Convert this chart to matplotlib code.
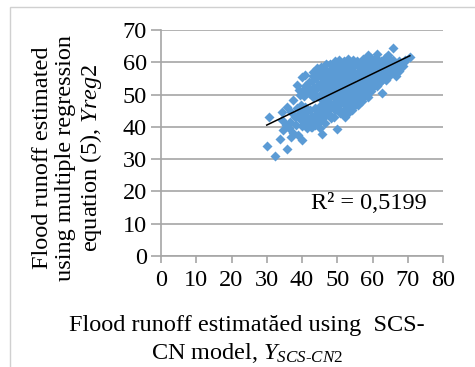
import numpy as np
import matplotlib
matplotlib.use("Agg")
import matplotlib.pyplot as plt
from matplotlib.patches import Rectangle

plt.rcParams["font.family"] = ["Liberation Serif", "DejaVu Serif"]
plt.rcParams["mathtext.fontset"] = "custom"
plt.rcParams["mathtext.rm"] = "Liberation Serif"
plt.rcParams["mathtext.it"] = "Liberation Serif:italic"

# Flood runoff: SCS-CN model (x) versus multiple regression equation (y)
runoff_scs = [
    # sparse low-left points
    30.0, 32.3, 35.7, 30.7, 33.8, 34.7, 34.2, 35.7, 34.2, 36.6, 37.5, 36.3, 37.4, 38.3,
    38.8, 39.9, 42.7, 37.9, 36.9, 38.5, 39.9, 40.9, 45.6, 49.8, 52.2, 54.1, 39.2, 38.6,
    35.5, 37.0,
    # sparse upper-right points
    62.6, 61.2, 65.9, 64.5, 58.8, 70.6, 68.4, 67.6, 66.8, 69.3,
    # lower-left lobe
    40.1, 39.8, 40.3, 40.0, 39.7, 41.3, 41.0, 41.5, 41.2, 40.9, 42.6, 42.3, 42.8, 42.4,
    43.8, 43.5, 44.0, 43.6, 45.1, 44.8, 45.3, 44.9, 45.2, 46.4, 46.1, 46.6, 46.2,
    # upper-left part
    39.5, 39.2, 40.7, 40.4, 40.9, 41.9, 41.6, 42.1, 43.1, 42.8, 43.3, 42.9, 43.2, 43.0,
    44.3, 44.0, 44.5, 44.1, 44.4, 44.2, 45.6, 45.3, 45.8, 45.4, 45.7, 45.5, 45.3,
    46.8, 46.5, 47.0, 46.6, 46.9, 46.7, 46.5, 46.9,
    # core
    48.3, 47.8, 48.1, 47.7, 48.0, 48.2, 47.9, 48.3, 47.8, 48.1, 48.0,
    49.1, 49.5, 49.2, 49.6, 49.0, 49.4, 49.3, 49.1, 49.6, 49.2, 49.4,
    50.8, 50.4, 50.7, 50.3, 50.9, 50.5, 50.6, 50.8, 50.4, 50.7, 50.5,
    51.7, 52.1, 51.8, 52.2, 51.6, 52.0, 51.9, 51.7, 52.1, 51.8,
    53.4, 53.0, 53.3, 52.9, 53.5, 53.1, 53.2, 53.4, 53.0, 53.3, 53.1,
    54.3, 54.7, 54.4, 54.8, 54.2, 54.6, 54.5, 54.3, 54.7, 54.4,
    56.0, 55.6, 55.9, 55.5, 56.1, 55.7, 55.8, 56.0, 55.6,
    56.9, 57.3, 57.0, 57.4, 56.8, 57.2, 57.1, 56.9, 57.3,
    58.6, 58.2, 58.5, 58.1, 58.7, 58.3, 58.4, 58.6,
    59.5, 59.9, 59.6, 60.0, 59.4, 59.8, 59.7, 59.5,
    61.2, 60.8, 61.1, 60.7, 61.3, 60.9, 61.0,
    62.1, 62.5, 62.2, 62.6, 62.0, 62.4,
    63.8, 63.4, 63.7, 63.3, 63.9, 63.5,
    64.7, 65.1, 64.8, 65.2, 64.6,
    66.4, 66.0, 66.3, 65.9,
    67.3, 67.7, 67.4,
    68.6, 69.0,
    # in-between fill of the core
    47.4, 48.7, 50.0, 51.3, 52.6, 53.9, 55.1, 56.4, 57.7, 59.0, 60.3, 61.6,
    47.4, 48.7, 50.0, 51.3, 52.6, 53.9, 55.1, 56.4, 57.7, 59.0, 60.3, 61.6,
    47.4, 48.7, 50.0, 51.3, 52.6, 53.9, 55.1, 56.4, 57.7, 59.0, 60.3, 61.6,
    62.9, 64.2, 65.5, 62.9, 64.2, 65.5, 66.8, 67.9,
]
runoff_reg = [
    34.2, 31.1, 33.2, 43.0, 36.3, 38.9, 44.6, 46.1, 42.0, 41.5, 48.2, 39.8, 38.2, 40.6,
    37.6, 35.8, 39.9, 43.2, 44.5, 52.9, 55.5, 56.0, 37.8, 39.4, 43.0, 45.1, 44.0, 45.8,
    40.5, 36.8,
    50.6, 62.7, 64.3, 62.2, 62.2, 61.5, 59.8, 57.4, 55.8, 60.6,
    40.4, 42.1, 43.5, 45.2, 46.8, 39.6, 41.4, 43.1, 44.6, 46.3, 40.0, 41.7, 43.3, 45.1,
    40.7, 42.3, 44.1, 45.7, 39.8, 41.5, 43.1, 44.9, 46.6, 41.2, 42.9, 44.4, 46.3,
    50.0, 51.5, 49.6, 51.2, 52.8, 50.4, 52.3, 53.9, 49.1, 50.9, 52.4, 54.3, 55.7, 57.1,
    49.7, 51.6, 53.1, 55.1, 56.5, 58.1, 48.3, 50.1, 51.7, 53.6, 55.1, 56.9, 58.4,
    47.7, 49.6, 51.1, 53.1, 54.6, 56.5, 57.9, 59.4,
    42.7, 44.1, 46.0, 47.5, 49.4, 50.9, 52.8, 54.3, 56.2, 57.7, 59.5,
    43.2, 45.2, 46.7, 48.6, 50.1, 52.0, 53.5, 55.4, 56.9, 58.8, 60.3,
    44.2, 45.6, 47.5, 49.0, 50.9, 52.4, 54.3, 55.8, 57.7, 59.2, 60.7,
    44.8, 46.8, 48.3, 50.2, 51.7, 53.6, 55.1, 57.0, 58.5, 60.4,
    44.6, 46.0, 47.9, 49.4, 51.3, 52.8, 54.7, 56.2, 58.1, 59.6, 61.0,
    45.9, 47.2, 49.1, 50.6, 52.5, 54.0, 55.9, 57.4, 59.3, 60.6,
    46.8, 48.8, 50.3, 52.2, 53.7, 55.6, 57.1, 59.0, 60.3,
    47.9, 49.4, 51.3, 52.8, 54.7, 56.2, 58.1, 59.6, 60.9,
    49.4, 50.4, 52.1, 53.6, 55.5, 57.0, 58.9, 60.4,
    51.2, 52.0, 53.5, 55.2, 56.7, 58.6, 60.0, 61.4,
    52.6, 53.3, 55.0, 56.5, 58.4, 59.9, 61.2,
    53.8, 54.2, 55.9, 57.4, 59.3, 60.5,
    54.6, 55.4, 57.1, 58.6, 60.4, 61.4,
    55.6, 56.8, 58.3, 60.1, 61.0,
    56.4, 57.6, 59.5, 60.7,
    57.6, 58.8, 60.4,
    58.7, 60.1,
    50.4, 51.1, 52.6, 53.4, 54.1, 55.0, 55.7, 56.5, 57.2, 58.0, 58.8, 59.4,
    54.3, 55.0, 56.2, 57.1, 57.8, 58.6, 59.2, 59.8, 55.1, 56.0, 56.9, 57.8,
    46.2, 47.0, 48.3, 49.1, 49.9, 50.9, 51.6, 52.4, 53.1, 54.0, 54.8, 55.5,
    56.4, 57.3, 58.1, 59.9, 60.2, 60.4, 58.6, 59.1,
]
r_squared_label = "R\u00b2 = 0,5199"
x_ticks = [0, 10, 20, 30, 40, 50, 60, 70, 80]
y_ticks = [0, 10, 20, 30, 40, 50, 60, 70]

x = np.array(runoff_scs)
y = np.array(runoff_reg)

W, H = 475, 367
FS = 17.5
fig = plt.figure(figsize=(W / 100, H / 100), dpi=100)
fig.patch.set_facecolor("white")

# chart-area frame
fig.patches.append(Rectangle((10 / W, -0.05), 1.2, 1 - 7 / H + 0.05,
                             transform=fig.transFigure, fill=False,
                             edgecolor="#d0d0d0", linewidth=1.0))

ax = fig.add_axes([161 / W, 1 - 256 / H, (443 - 161) / W, (256 - 30) / H])
ax.set_xlim(0, 80)
ax.set_ylim(0, 70)
ax.set_xticks(x_ticks)
ax.set_yticks(y_ticks)

grid_c = "#a6a6a6"
ax.yaxis.grid(True, color=grid_c, linewidth=1.2)
ax.set_axisbelow(True)
for side in ("top", "right"):
    ax.spines[side].set_visible(False)
for side in ("left", "bottom"):
    ax.spines[side].set_color(grid_c)
    ax.spines[side].set_linewidth(1.2)
ax.tick_params(axis="both", colors=grid_c, labelcolor="black", labelsize=FS,
               width=1.2)
ax.tick_params(axis="x", length=5, pad=5)
ax.tick_params(axis="y", length=7, pad=3)

ax.scatter(x, y, marker="D", s=26, color="#5b9bd5", linewidths=0, zorder=3)

# linear trendline over the data range
slope, intercept = np.polyfit(x, y, 1)
xl = np.array([x.min(), x.max()])
ax.plot(xl, slope * xl + intercept, color="black", linewidth=1.1, zorder=4)

ax.text(75.5, 13.0, r_squared_label, fontsize=FS, ha="right", va="bottom")

fig.text(68 / W, 1 - 158 / H,
         "Flood runoff estimated\nusing multiple regression\nequation (5), $Yreg2$",
         rotation=90, ha="center", va="center", fontsize=FS, linespacing=1.1)
fig.text(247 / W, 1 - 326 / H, "Flood runoff estimat\u0103ed using  SCS-",
         ha="center", va="center", fontsize=FS)
fig.text(247 / W, 1 - 353 / H, r"CN model, $Y_{SCS\text{-}CN2}$",
         ha="center", va="center", fontsize=FS)

fig.savefig("out.png", dpi=100)
